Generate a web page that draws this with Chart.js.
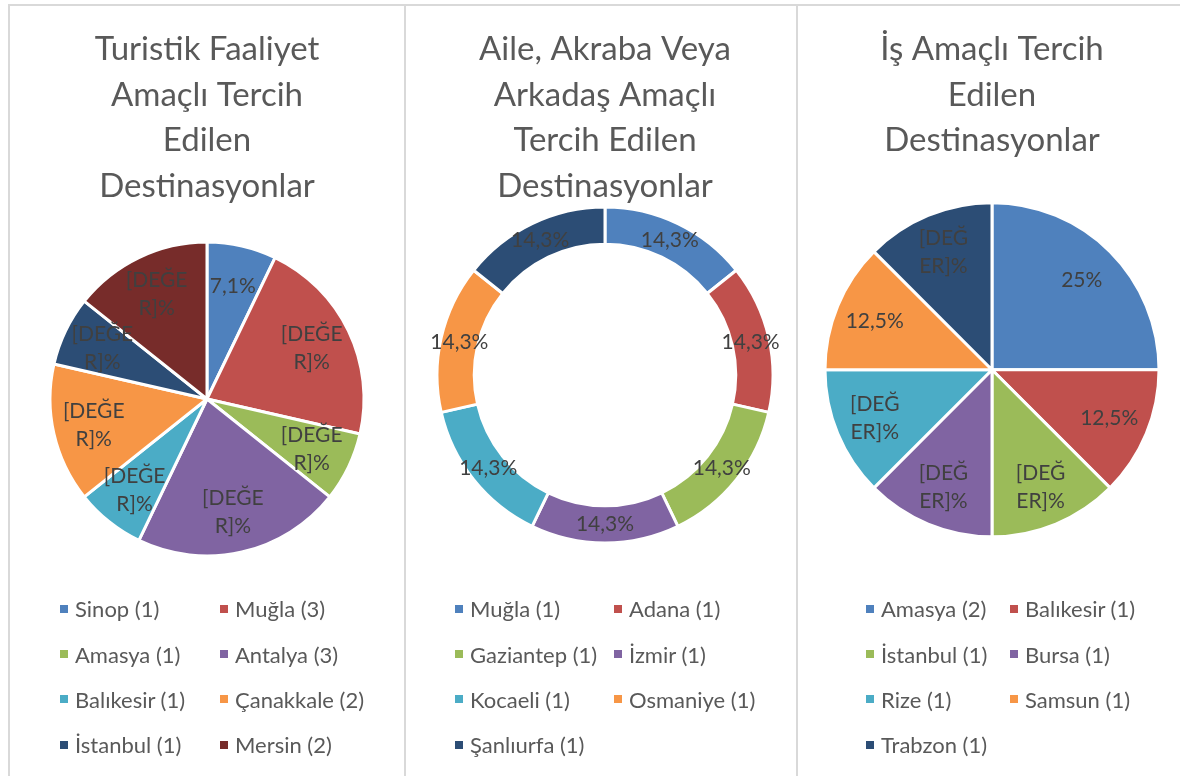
<!DOCTYPE html>
<html>
<head>
<meta charset="utf-8">
<script src="https://cdn.jsdelivr.net/npm/chart.js@4.4.0/dist/chart.umd.min.js"></script>
<style>
  body { margin:0; background:#fff; width:1180px; height:776px; overflow:hidden; position:relative; font-family:Lato, sans-serif; }
  .line { position:absolute; background:#d9d9d9; }
  canvas { position:absolute; top:6px; }
  .legend { position:absolute; top:586px; display:grid; color:#595959; font-size:22px; }
  .legend div { height:45.4px; display:flex; align-items:center; white-space:nowrap; }
  .legend span { display:inline-block; width:8px; height:8px; margin-right:7px; }
</style>
</head>
<body>
<div class="line" style="left:8px;top:4px;width:1172px;height:2px"></div>
<div class="line" style="left:8px;top:4px;width:2px;height:772px"></div>
<div class="line" style="left:404px;top:4px;width:2px;height:772px"></div>
<div class="line" style="left:796px;top:4px;width:2px;height:772px"></div>
<canvas id="c1" width="394" height="770" style="left:10px"></canvas>
<canvas id="c2" width="390" height="770" style="left:406px"></canvas>
<canvas id="c3" width="382" height="770" style="left:798px"></canvas>
<div class="legend" id="l1" style="left:60px;grid-template-columns:160px 160px"></div>
<div class="legend" id="l2" style="left:455px;grid-template-columns:159px 159px"></div>
<div class="legend" id="l3" style="left:866px;grid-template-columns:144px 144px"></div>
<script>
// turistik faaliyet
const turistikLabels = ['Sinop (1)', 'Muğla (3)', 'Amasya (1)', 'Antalya (3)', 'Balıkesir (1)', 'Çanakkale (2)', 'İstanbul (1)', 'Mersin (2)'];
const turistikValues = [1, 3, 1, 3, 1, 2, 1, 2];
const turistikText = ['7,1%', '[DEĞE\nR]%', '[DEĞE\nR]%', '[DEĞE\nR]%', '[DEĞE\nR]%', '[DEĞE\nR]%', '[DEĞE\nR]%', '[DEĞE\nR]%'];
// aile, akraba veya arkadaş
const aileLabels = ['Muğla (1)', 'Adana (1)', 'Gaziantep (1)', 'İzmir (1)', 'Kocaeli (1)', 'Osmaniye (1)', 'Şanlıurfa (1)'];
const aileValues = [1, 1, 1, 1, 1, 1, 1];
const aileText = ['14,3%', '14,3%', '14,3%', '14,3%', '14,3%', '14,3%', '14,3%'];
// iş amaçlı
const isLabels = ['Amasya (2)', 'Balıkesir (1)', 'İstanbul (1)', 'Bursa (1)', 'Rize (1)', 'Samsun (1)', 'Trabzon (1)'];
const isValues = [2, 1, 1, 1, 1, 1, 1];
const isText = ['25%', '12,5%', '[DEĞ\nER]%', '[DEĞ\nER]%', '[DEĞ\nER]%', '12,5%', '[DEĞ\nER]%'];

const palette = ['#4F81BD', '#C0504D', '#9BBB59', '#8064A2', '#4BACC6', '#F79646', '#2C4D75', '#772C2A'];

function sliceText(texts, ratio) {
  return {
    id: 'sliceText',
    afterDatasetsDraw(chart) {
      const ctx = chart.ctx;
      const meta = chart.getDatasetMeta(0);
      ctx.save();
      ctx.font = '21px Lato';
      ctx.fillStyle = '#404040';
      ctx.textAlign = 'center';
      ctx.textBaseline = 'middle';
      meta.data.forEach((arc, i) => {
        const p = arc.getProps(['x', 'y', 'startAngle', 'endAngle', 'innerRadius', 'outerRadius'], true);
        const mid = (p.startAngle + p.endAngle) / 2;
        const r = p.innerRadius > 0 ? (p.innerRadius + p.outerRadius) / 2 : p.outerRadius * ratio;
        const lines = texts[i].split('\n');
        lines.forEach((ln, k) => {
          ctx.fillText(ln, p.x + Math.cos(mid) * r, p.y + Math.sin(mid) * r + (k - (lines.length - 1) / 2) * 28);
        });
      });
      ctx.restore();
    }
  };
}

function makeChart(id, legendId, type, title, labels, values, texts, opt) {
  const chart = new Chart(document.getElementById(id), {
    type: type,
    data: {
      labels: labels,
      datasets: [{
        data: values,
        backgroundColor: palette.slice(0, values.length),
        borderColor: '#fff',
        borderWidth: 3,
        radius: opt.radius,
        cutout: opt.cutout,
        clip: false
      }]
    },
    options: {
      responsive: false,
      animation: false,
      layout: { padding: { left: opt.left || 0, bottom: opt.bottom } },
      plugins: {
        legend: { display: false },
        tooltip: { enabled: false },
        title: {
          display: true,
          text: title,
          color: '#595959',
          font: { family: 'Lato', size: 33, weight: 'normal', lineHeight: 1.379 },
          padding: { top: 21, bottom: 0 }
        }
      }
    },
    plugins: [sliceText(texts, opt.ratio || 0.74)]
  });
  let box = document.getElementById(legendId);
  chart.options.plugins.legend.labels.generateLabels(chart).forEach(item => {
    let d = document.createElement('div');
    d.innerHTML = '<span style="background:' + item.fillStyle + '"></span>' + item.text;
    box.appendChild(d);
  });
  return chart;
}

makeChart('c1', 'l1', 'pie', ['Turistik Faaliyet', 'Amaçlı Tercih', 'Edilen', 'Destinasyonlar'],
  turistikLabels, turistikValues, turistikText, { radius: 157, bottom: 187, ratio: 0.74 });
makeChart('c2', 'l2', 'doughnut', ['Aile, Akraba Veya', 'Arkadaş Amaçlı', 'Tercih Edilen', 'Destinasyonlar'],
  aileLabels, aileValues, aileText, { radius: 168, cutout: 128, bottom: 235, left: 8 });
makeChart('c3', 'l3', 'pie', ['İş Amaçlı Tercih', 'Edilen', 'Destinasyonlar'],
  isLabels, isValues, isText, { radius: 167, bottom: 200, left: 6, ratio: 0.76 });
</script>
</body>
</html>
